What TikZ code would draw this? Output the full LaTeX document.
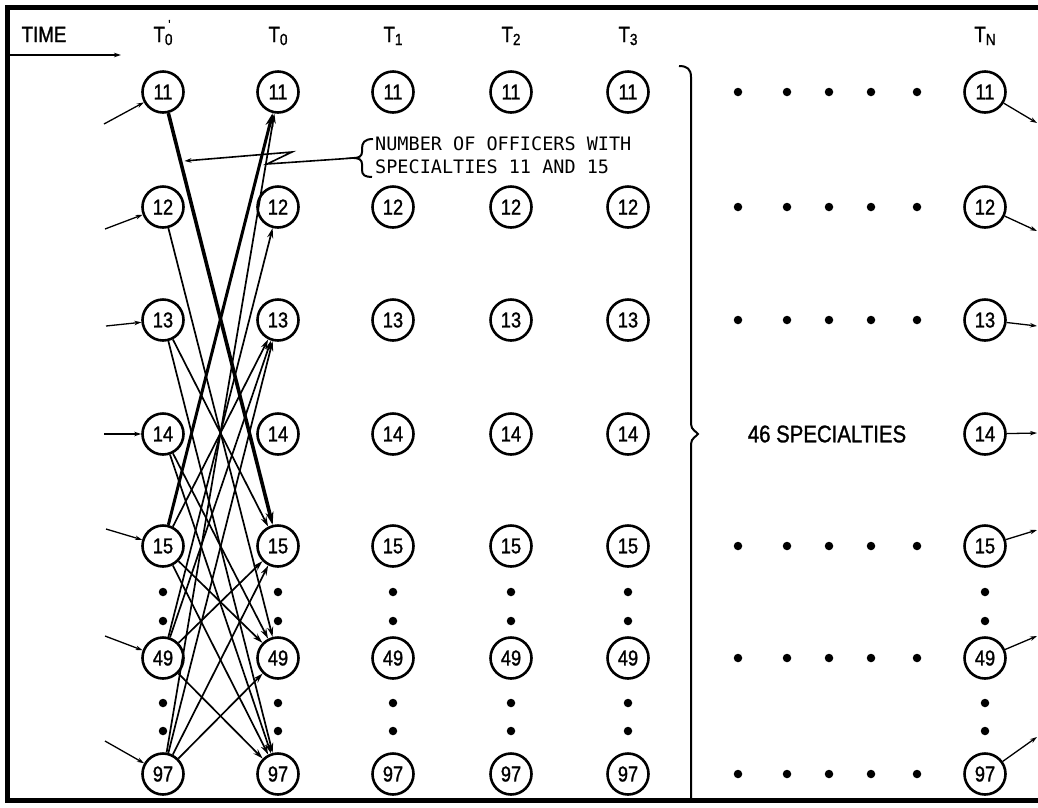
\documentclass[tikz,border=0pt]{standalone}
\usepackage{fontspec}
\usetikzlibrary{arrows.meta,calc}
\newfontfamily\nfont[FakeStretch=0.85,FakeBold=1.2]{Liberation Sans}
\newfontfamily\afont{DejaVu Sans Mono}
\newcommand{\Tlab}[1]{T\raisebox{-3pt}{\fontsize{16}{16}\selectfont #1}}
\newcommand{\Tlabp}[1]{T\raisebox{-3pt}{\fontsize{16}{16}\selectfont #1}\llap{\raisebox{13pt}{\fontsize{13}{13}\selectfont '\hspace{2pt}}}}
\begin{document}
\begin{tikzpicture}[x=1pt,y=-1pt,
  circ/.style={circle,draw,line width=2.6pt,minimum size=41pt,inner sep=0pt,font=\nfont\fontsize{21.5}{21.5}\selectfont},
  dot/.style={circle,fill,inner sep=0pt,minimum size=8.5pt},
  edge/.style={-{Stealth[length=10pt,width=6pt]},line width=1.7pt},
  bold/.style={-{Stealth[length=13pt,width=8pt]},line width=3.6pt},
  feed/.style={-{Stealth[length=7pt,width=4.5pt]},line width=1.3pt},
  lab/.style={font=\nfont\fontsize{22}{22}\selectfont,anchor=base,inner sep=0pt},
  ann/.style={font=\afont\fontsize{18.5}{18.5}\selectfont,anchor=base west,inner sep=0pt}]
\useasboundingbox (0,0) rectangle (1038,807);
\fill[white] (0,0) rectangle (1038,807);
% frame
\draw[line width=5pt] (1040,7) -- (7,7) -- (7,800) -- (1040,800);
% header
\node[lab] (time) at (44,42) {TIME};
\coordinate (ts) at (8,55);
\coordinate (te) at (121,55);
\draw[feed] (ts) -- (te);
\node[lab] (tp) at (163,42) {\Tlabp{0}};
\node[lab] (t0) at (278,42) {\Tlab{0}};
\node[lab] (t1) at (393,42) {\Tlab{1}};
\node[lab] (t2) at (511,42) {\Tlab{2}};
\node[lab] (t3) at (628,42) {\Tlab{3}};
\node[lab] (tN) at (985,42) {\Tlab{N}};
% circles
\foreach \c/\x in {L/163,R/278,A/393,B/511,C/628,N/985}
  \foreach \r/\y in {11/92,12/207,13/320,14/434,15/546,49/658,97/774}
    \node[circ] (\c\r) at (\x,\y) {\r};
% vertical dots
\foreach \c/\x in {L/163,R/278,A/393,B/511,C/628,N/985}
  \foreach \y in {592,621,703,731}
    \node[dot] (vd\c\y) at (\x,\y) {};
% horizontal dots
\foreach \r/\y in {11/92,12/207,13/320,15/546,49/658,97/774}
  \foreach \i/\x in {1/738,2/787,3/829,4/871,5/917}
    \node[dot] (hd\r\i) at (\x,\y) {};
\node[font=\nfont\fontsize{24}{24}\selectfont,inner sep=0pt] (spec) at (827,434) {46 SPECIALTIES};
% big brace
\draw[line width=2pt] (679,66) .. controls (687,66) and (691,69) .. (691,77) -- (691,424)
  .. controls (691,430) and (697,432) .. (698,434) .. controls (697,436) and (691,438) .. (691,444) -- (691,800);
% incoming arrows at T0'
\foreach \r/\px/\py in {11/104/124,12/105/229,13/106/326,14/104/434,15/106/529,49/105/636,97/105/741}{
  \coordinate (i\r) at (\px,\py);
  \draw[feed] (i\r) -- (L\r);
}
% outgoing arrows at TN
\foreach \r/\px/\py in {11/1037/123,12/1037/231,13/1037/326,14/1037/433,15/1037/530,49/1037/636,97/1037/737}{
  \coordinate (o\r) at (\px,\py);
  \draw[feed] (N\r) -- (o\r);
}
% transitions T0' -> T0
\draw[bold] (L11) -- (R15);
\draw[bold,line width=3pt] (L15) -- (R11);
\foreach \a/\b in {97/11,49/12,15/13,49/13,97/13,13/15,49/15,97/15,12/49,14/49,15/49,97/49,13/97,14/97,15/97,49/97}
  \draw[edge] (L\a) -- (R\b);
% annotation
\node[ann] (ann1) at (375,150) {NUMBER OF OFFICERS WITH};
\node[ann] (ann2) at (375,173) {SPECIALTIES 11 AND 15};
\draw[line width=2pt] (373,139) .. controls (364,139) and (362,143) .. (362,149) -- (362,152)
  .. controls (362,156) and (359,158) .. (354,158) .. controls (359,158) and (362,160) .. (362,164)
  -- (362,170) .. controls (362,175) and (365,177) .. (372,177);
\coordinate (bt) at (354,158);
\coordinate (z1) at (267,164);
\coordinate (z2) at (292,152);
\coordinate (hit) at ($(L11)!0.152!(R15)+(4,0)$);
\draw[feed,line width=1.6pt] (bt) -- (z1) -- (z2) -- (hit);
\end{tikzpicture}
\end{document}
